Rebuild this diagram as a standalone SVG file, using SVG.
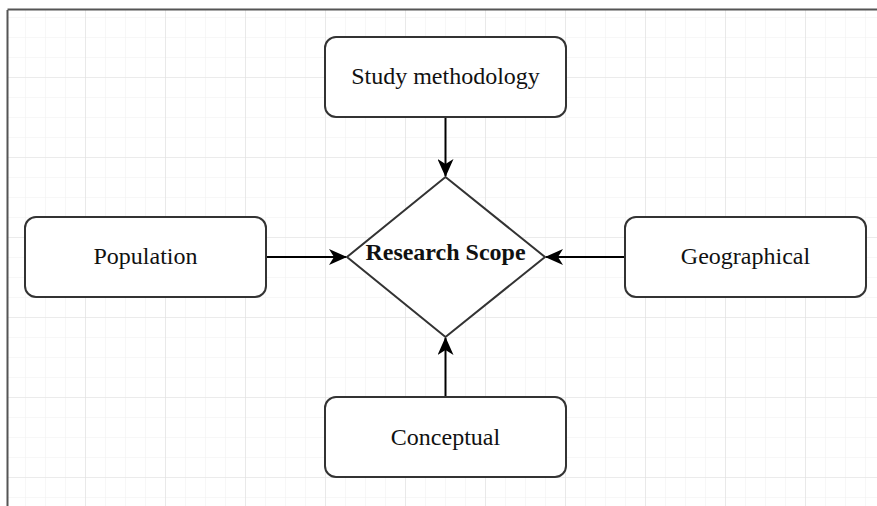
<svg xmlns="http://www.w3.org/2000/svg" width="877" height="506" viewBox="0 0 877 506">
  <defs>
    <style>
      .minor { stroke: #f0f0f0; stroke-width: 1; }
      .major { stroke: #e0e0e0; stroke-width: 1.2; }
      .node { fill: #ffffff; stroke: #333333; stroke-width: 2; }
      .lbl { font-family: "Liberation Serif", "Times New Roman", serif; font-size: 24px; fill: #111111; text-anchor: middle; }
      .bold { font-weight: bold; }
      .edge { stroke: #000000; stroke-width: 2; fill: none; }
    </style>
    <pattern id="minorGrid" x="5" y="-3" width="20" height="20" patternUnits="userSpaceOnUse">
      <path d="M0,0 H20 M0,0 V20" class="minor"/>
    </pattern>
    <pattern id="majorGrid" x="5" y="-3" width="80" height="80" patternUnits="userSpaceOnUse">
      <path d="M0,0 H80 M0,0 V80" class="major"/>
    </pattern>
    <marker id="arrow" viewBox="0 0 18 16" refX="17" refY="8" markerWidth="18" markerHeight="16" markerUnits="userSpaceOnUse" orient="auto">
      <path d="M0,0 L18,8 L0,16 L5,8 Z" fill="#000000"/>
    </marker>
  </defs>

  <rect x="0" y="0" width="877" height="506" fill="#ffffff"/>
  <g id="grid">
    <rect x="8" y="10" width="869" height="496" fill="url(#minorGrid)"/>
    <rect x="8" y="10" width="869" height="496" fill="url(#majorGrid)"/>
    <path d="M7.5,10 V506 M7.5,9.5 H877" stroke="#555555" stroke-width="2" fill="none"/>
  </g>

  <g id="connectors">
    <path class="edge" d="M445.5,117 V176" marker-end="url(#arrow)"/>
    <path class="edge" d="M266,257 H346" marker-end="url(#arrow)"/>
    <path class="edge" d="M625,257 H546" marker-end="url(#arrow)"/>
    <path class="edge" d="M445.5,397 V338" marker-end="url(#arrow)"/>
  </g>

  <g id="study-methodology">
    <rect class="node" x="325" y="37" width="241" height="80" rx="11" ry="11"/>
    <text class="lbl" x="445.5" y="84">Study methodology</text>
  </g>

  <g id="population">
    <rect class="node" x="25" y="217" width="241" height="80" rx="11" ry="11"/>
    <text class="lbl" x="145.5" y="264">Population</text>
  </g>

  <g id="geographical">
    <rect class="node" x="625" y="217" width="241" height="80" rx="11" ry="11"/>
    <text class="lbl" x="745.5" y="264">Geographical</text>
  </g>

  <g id="conceptual">
    <rect class="node" x="325" y="397" width="241" height="80" rx="11" ry="11"/>
    <text class="lbl" x="445.5" y="445">Conceptual</text>
  </g>

  <g id="research-scope">
    <polygon class="node" points="445.5,177 545,257 445.5,337 347,257"/>
    <text class="lbl bold" x="445.5" y="260">Research Scope</text>
  </g>
</svg>
